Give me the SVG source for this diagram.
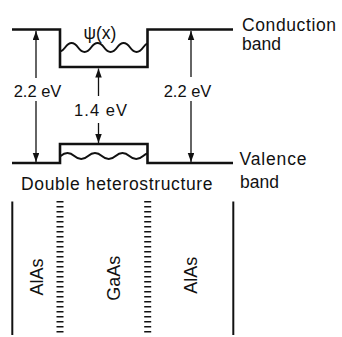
<svg xmlns="http://www.w3.org/2000/svg" width="342" height="337" viewBox="0 0 342 337">
<style>
  text { font-family: "Liberation Sans", Arial, Helvetica, sans-serif; fill: #111; }
  .band { fill: none; stroke: #111; stroke-width: 2.6; stroke-linejoin: miter; }
  .wave { fill: none; stroke: #111; stroke-width: 2; }
  .arr { stroke: #111; stroke-width: 1.3; marker-end: url(#ah); }
  .lbl { font-size: 17.5px; }
  .cb { font-size: 17.5px; }
  .ev { font-size: 16.5px; text-anchor: middle; }
  .mat { font-size: 18px; text-anchor: middle; }
  .solid { stroke: #111; stroke-width: 2; }
  .dot { stroke: #111; stroke-width: 7; stroke-dasharray: 1.6 3.4; }
</style>
<defs>
  <marker id="ah" markerUnits="userSpaceOnUse" markerWidth="10" markerHeight="8" refX="9" refY="3.25" orient="auto">
    <path d="M0,0 L9,3.25 L0,6.5 z" fill="#111"/>
  </marker>
  <clipPath id="well"><rect x="60" y="0" width="87.5" height="337"/></clipPath>
</defs>

<g id="conduction-band">
  <path class="band" d="M12,29.5 H60 V67 H147.5 V29.5 H233"/>
  <path class="wave" clip-path="url(#well)" d="M52.1,47.5 Q58.6,56.5 65.1,47.5 T78.1,47.5 T91.1,47.5 T104.1,47.5 T117.1,47.5 T130.1,47.5 T143.1,47.5 T156.1,47.5"/>
  <text class="lbl" x="100" y="39" text-anchor="middle">ψ(x)</text>
  <text class="cb" x="242" y="30.5" textLength="94" lengthAdjust="spacing">Conduction</text>
  <text class="cb" x="242" y="50">band</text>
</g>

<g id="valence-band">
  <path class="band" d="M12,163 H60 V144 H147.5 V163 H233"/>
  <path class="wave" clip-path="url(#well)" d="M46.85,156 Q53.725,162 60.6,156 T74.35,156 T88.1,156 T101.85,156 T115.6,156 T129.35,156 T143.1,156 T156.85,156"/>
  <text class="lbl" x="239.5" y="165" textLength="67" lengthAdjust="spacing">Valence</text>
  <text class="lbl" x="240" y="187.5">band</text>
</g>

<g id="caption">
  <text class="lbl" x="21" y="190" textLength="191.5" lengthAdjust="spacing">Double heterostructure</text>
</g>

<g id="gap-labels">
  <text class="ev" x="37.5" y="97">2.2 eV</text>
  <text class="ev" x="187.5" y="97">2.2 eV</text>
  <text class="ev" x="100.5" y="116" textLength="53" lengthAdjust="spacing">1.4 eV</text>
</g>

<g id="connectors">
  <line class="arr" x1="36" y1="78" x2="36" y2="31"/>
  <line class="arr" x1="36" y1="101" x2="36" y2="162"/>
  <line class="arr" x1="191" y1="77" x2="191" y2="31"/>
  <line class="arr" x1="191" y1="101" x2="191" y2="162"/>
  <line class="arr" x1="98.5" y1="96" x2="98.5" y2="68.5"/>
  <line class="arr" x1="98.5" y1="123" x2="98.5" y2="143"/>
</g>

<g id="layers">
  <line class="solid" x1="12.3" y1="201.5" x2="12.3" y2="335"/>
  <line class="dot" x1="60" y1="201" x2="60" y2="335"/>
  <line class="dot" x1="147.7" y1="201" x2="147.7" y2="335"/>
  <line class="solid" x1="233.3" y1="201.5" x2="233.3" y2="335"/>
</g>

<g id="layer-AlAs-left">
  <text class="mat" transform="translate(42.5,277) rotate(-90)">AlAs</text>
</g>
<g id="layer-GaAs">
  <text class="mat" transform="translate(119.8,278.3) rotate(-90)">GaAs</text>
</g>
<g id="layer-AlAs-right">
  <text class="mat" transform="translate(197,275.3) rotate(-90)">AlAs</text>
</g>
</svg>
